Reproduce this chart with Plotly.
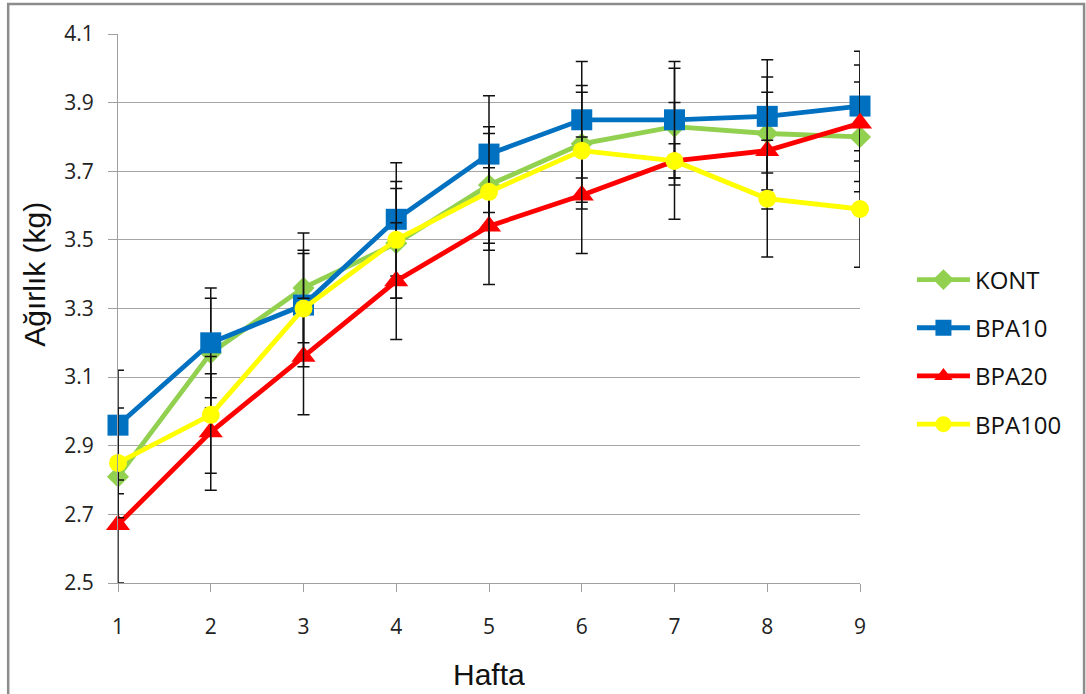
import plotly.graph_objects as go

weeks = [1, 2, 3, 4, 5, 6, 7, 8, 9]
series_names = ["KONT", "BPA10", "BPA20", "BPA100"]

kont = [2.81, 3.17, 3.36, 3.49, 3.66, 3.78, 3.83, 3.81, 3.80]
bpa10 = [2.96, 3.20, 3.31, 3.56, 3.75, 3.85, 3.85, 3.86, 3.89]
bpa20 = [2.67, 2.94, 3.16, 3.38, 3.54, 3.63, 3.73, 3.76, 3.84]
bpa100 = [2.85, 2.99, 3.30, 3.50, 3.64, 3.76, 3.73, 3.62, 3.59]

kont_err = [0.05, 0.16, 0.16, 0.16, 0.17, 0.17, 0.17, 0.165, 0.16]
bpa10_err = [0.16, 0.16, 0.15, 0.165, 0.17, 0.17, 0.17, 0.165, 0.16]
bpa20_err = [0.17, 0.17, 0.17, 0.17, 0.17, 0.17, 0.17, 0.17, 0.17]
bpa100_err = [0.16, 0.17, 0.17, 0.17, 0.17, 0.17, 0.05, 0.17, 0.17]

y_ticks = [2.5, 2.7, 2.9, 3.1, 3.3, 3.5, 3.7, 3.9, 4.1]

colors = ["#92D050", "#0070C0", "#FF0000", "#FFFF00"]
symbols = ["diamond", "square", "triangle-up", "circle"]
sizes = [17, 21, 21, 18]
values = [kont, bpa10, bpa20, bpa100]
errors = [kont_err, bpa10_err, bpa20_err, bpa100_err]

fig = go.Figure()
for name, vals, errs, col, sym, sz in zip(series_names, values, errors, colors, symbols, sizes):
    fig.add_trace(go.Scatter(
        x=weeks, y=vals, name=name, legendgroup=name,
        mode="lines+markers",
        line=dict(color=col, width=4.8),
        marker=dict(color=col, symbol=sym, size=sz, line=dict(width=0)),
        error_y=dict(type="data", array=errs, visible=True, color="#111111", thickness=1.5, width=6),
        cliponaxis=False,
    ))

font_ticks = dict(family="Open Sans, sans-serif", size=21, color="#222222")

fig.update_layout(
    width=1086, height=694,
    margin=dict(l=118, r=226, t=34, b=111),
    paper_bgcolor="white", plot_bgcolor="white",
    showlegend=True,
    legend=dict(
        x=1.07, y=0.593, xanchor="left", yanchor="top",
        font=dict(family="Open Sans, sans-serif", size=24, color="#111111"),
        tracegroupgap=14, traceorder="grouped", itemwidth=53,
        bgcolor="rgba(0,0,0,0)",
    ),
    xaxis=dict(
        range=[1, 9], tickmode="array", tickvals=weeks, ticktext=[str(w) for w in weeks],
        showgrid=False, showline=True, linecolor="#A0A0A0", linewidth=1.2,
        ticks="outside", ticklen=8, tickcolor="#A0A0A0", tickwidth=1.2,
        tickfont=font_ticks, ticklabelstandoff=17, zeroline=False,
    ),
    yaxis=dict(
        range=[2.5, 4.1], tickmode="array", tickvals=y_ticks,
        ticktext=[f"{v:.1f}" for v in y_ticks],
        showgrid=True, gridcolor="#A6A6A6", gridwidth=1,
        showline=True, linecolor="#A0A0A0", linewidth=1.2,
        ticks="outside", ticklen=9, tickcolor="#A0A0A0", tickwidth=1.2,
        tickfont=font_ticks, ticklabelstandoff=10, zeroline=False,
    ),
    annotations=[
        dict(text="Ağırlık (kg)", textangle=-90, xref="paper", yref="paper",
             x=-0.112, y=0.563, xanchor="center", yanchor="middle", showarrow=False,
             font=dict(family="Liberation Sans, Arial, sans-serif", size=30, color="#111111")),
        dict(text="Hafta", xref="paper", yref="paper",
             x=0.5, y=-0.167, xanchor="center", yanchor="middle", showarrow=False,
             font=dict(family="Liberation Sans, Arial, sans-serif", size=30, color="#111111")),
    ],
    shapes=[
        dict(type="rect", xref="paper", yref="paper",
             x0=-0.148, x1=1.302, y0=-0.25, y1=1.0546,
             line=dict(color="#8C8C8C", width=2.5), fillcolor="rgba(0,0,0,0)", layer="below"),
    ],
)

fig.write_html("out.html", config={"displayModeBar": False},
               post_script="document.body.style.margin='0px';")
